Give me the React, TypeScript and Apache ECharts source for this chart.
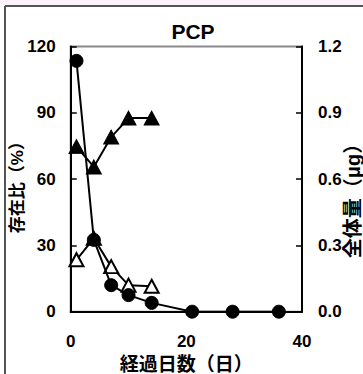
import React, { useEffect, useRef } from "react";
import * as echarts from "echarts";

// Days after application
const days = [1, 4, 7, 10, 14, 21, 28, 36];
// Total amount (μg), right axis
const totalAmount = [1.135, 0.325, 0.12, 0.075, 0.04, 0, 0, 0];
// Share (%) of the two fractions, left axis
const shareDays = [1, 4, 7, 10, 14];
const shareFilled = [74.7, 65.5, 79, 87.6, 87.6];
const shareOpen = [23.5, 33.2, 20.4, 12, 11.5];

const leftTicks = [0, 30, 60, 90, 120];
const rightTicks = [0, 0.3, 0.6, 0.9, 1.2];

const FONT = "'Liberation Sans', 'Noto Sans CJK JP', sans-serif";

export default function App() {
  const ref = useRef<HTMLDivElement>(null);

  useEffect(() => {
    if (!ref.current) return;
    const chart = echarts.init(ref.current, null, { renderer: "svg" });
    const pair = (xs: number[], ys: number[]) => xs.map((x, i) => [x, ys[i]]);
    const labelStyle = { color: "#000", fontSize: 17, fontWeight: "bold" as const, fontFamily: FONT };
    const nameStyle = { color: "#000", fontSize: 19, fontWeight: "bold" as const, fontFamily: FONT };

    chart.setOption({
      animation: false,
      backgroundColor: "#fff",
      title: {
        text: "PCP",
        left: 188,
        top: 16,
        textAlign: "center",
        textStyle: { color: "#000", fontSize: 21, fontWeight: "bold", fontFamily: FONT },
      },
      graphic: [
        { type: "rect", shape: { x: 0, y: 0, width: 363, height: 5 }, style: { fill: "#fcf3fa" }, silent: true },
        { type: "line", shape: { x1: 5, y1: 6, x2: 363, y2: 6 }, style: { stroke: "#555", lineWidth: 2 }, silent: true },
        { type: "line", shape: { x1: 5, y1: 6, x2: 5, y2: 374 }, style: { stroke: "#555", lineWidth: 2 }, silent: true },
      ],
      grid: {
        left: 70.7,
        right: 61,
        top: 46.5,
        bottom: 62.3,
        containLabel: false,
        outerBoundsMode: "none",
        show: true,
        borderColor: "#8a8a8a",
        borderWidth: 2,
        backgroundColor: "transparent",
      },
      xAxis: {
        type: "value",
        min: 0,
        max: 40,
        interval: 20,
        name: "経過日数（日）",
        nameLocation: "middle",
        nameGap: 43,
        nameMoveOverlap: false,
        nameTextStyle: nameStyle,
        axisLine: { show: true, lineStyle: { color: "#000", width: 2 } },
        axisTick: { show: false },
        splitLine: { show: false },
        axisLabel: { ...labelStyle, margin: 21 },
      },
      yAxis: [
        {
          type: "value",
          min: 0,
          max: 120,
          interval: 30,
          position: "left",
          name: "存在比（%）",
          nameLocation: "middle",
          nameGap: 45,
          nameMoveOverlap: false,
          nameRotate: 90,
          nameTextStyle: { ...nameStyle, fontSize: 17, padding: [0, 8, 0, 0] },
          axisLine: { show: true, lineStyle: { color: "#000", width: 2 } },
          axisTick: { show: true, inside: true, length: 6, lineStyle: { color: "#000", width: 1.5 } },
          splitLine: { show: false },
          axisLabel: { ...labelStyle, margin: 15, formatter: (v: number) => (leftTicks.includes(v) ? String(v) : "") },
        },
        {
          type: "value",
          min: 0,
          max: 1.2,
          interval: 0.3,
          position: "right",
          name: "全体量（μg）",
          nameLocation: "middle",
          nameGap: 41,
          nameMoveOverlap: false,
          nameRotate: 90,
          nameTextStyle: { ...nameStyle, fontSize: 20, padding: [0, 34, 0, 0] },
          axisLine: { show: true, lineStyle: { color: "#000", width: 2 } },
          axisTick: { show: true, inside: true, length: 6, lineStyle: { color: "#000", width: 1.5 } },
          splitLine: { show: false },
          axisLabel: {
            ...labelStyle,
            margin: 16,
            formatter: (v: number) => {
              const t = rightTicks.find((r) => Math.abs(r - v) < 1e-9);
              return t === undefined ? "" : t.toFixed(1);
            },
          },
        },
      ],
      series: [
        {
          name: "filled",
          type: "line",
          yAxisIndex: 0,
          data: pair(shareDays, shareFilled),
          symbol: "triangle",
          symbolSize: [15, 14],
          lineStyle: { color: "#000", width: 2 },
          itemStyle: { color: "#000", borderColor: "#000", borderWidth: 1 },
          z: 3,
        },
        {
          name: "open",
          type: "line",
          yAxisIndex: 0,
          data: pair(shareDays, shareOpen),
          symbol: "triangle",
          symbolSize: [14, 13],
          showAllSymbol: true,
          lineStyle: { color: "#000", width: 2 },
          itemStyle: { color: "#fff", borderColor: "#000", borderWidth: 2 },
          z: 4,
        },
        {
          name: "total",
          type: "line",
          yAxisIndex: 1,
          data: pair(days, totalAmount),
          symbol: "circle",
          symbolSize: 13,
          lineStyle: { color: "#000", width: 2 },
          itemStyle: { color: "#000", borderColor: "#000", borderWidth: 1 },
          z: 5,
        },
      ],
    });
    return () => chart.dispose();
  }, []);

  return (
    <div
      ref={ref}
      style={{ position: "fixed", left: 0, top: 0, width: 363, height: 374 }}
    />
  );
}
